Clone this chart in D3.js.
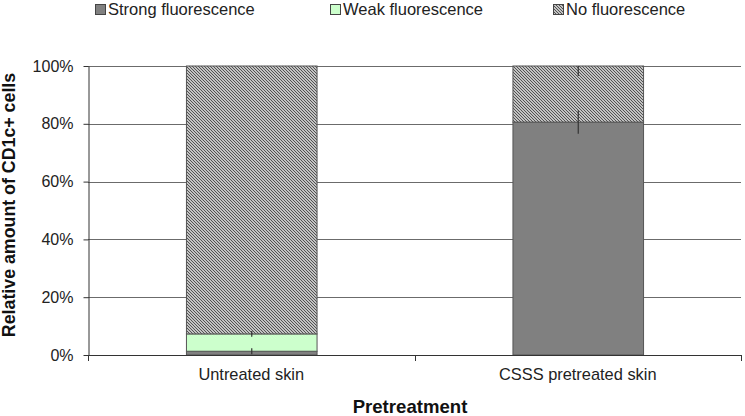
<!DOCTYPE html>
<html><head><meta charset="utf-8">
<script src="https://cdn.jsdelivr.net/npm/d3@7"></script>
<style>body{margin:0;background:#fff}svg{display:block;font-family:"Liberation Sans",Arial,sans-serif}</style>
</head><body><svg id="c" width="745" height="416"></svg>
<script>
const categories = ["Untreated skin", "CSSS pretreated skin"];
const seriesNames = ["Strong fluorescence", "Weak fluorescence", "No fluorescence"];
const strong = [1.3, 80.6];
const weak = [6.0, 0];
const none = [92.7, 19.4];
const strongErr = [1.0, 4.0];
const weakErr = [1.0, 0];
const noneErr = [0, 3.5];
const yTicks = [0, 20, 40, 60, 80, 100];

const svg = d3.select("#c");
const x = d3.scaleBand().domain(categories).range([88, 741]).paddingInner(0.6).paddingOuter(0.3);
const y = d3.scaleLinear().domain([0, 100]).range([355, 66]);

const defs = svg.append("defs");
const pat = defs.append("pattern").attr("id", "hatch").attr("patternUnits", "userSpaceOnUse")
  .attr("width", 3).attr("height", 3);
pat.append("rect").attr("width", 3).attr("height", 3).attr("fill", "#f4f4f4");
pat.append("path").attr("d", "M-1,-1 L4,4 M-1,2 L1,4 M2,-1 L4,1").attr("stroke", "#4a4a4a").attr("stroke-width", 1.1);

// grid
svg.append("g").selectAll("line").data(yTicks).join("line")
  .attr("x1", 88).attr("x2", 741).attr("y1", d => Math.round(y(d)) + 0.5).attr("y2", d => Math.round(y(d)) + 0.5)
  .attr("stroke", "#6b6b6b").attr("stroke-width", 1);

// y axis
const ya = svg.append("g").attr("transform", "translate(88.5,0)")
  .call(d3.axisLeft(y).tickValues(yTicks).tickFormat(d => d + "%").tickSize(5).tickSizeOuter(0));
ya.select(".domain").attr("stroke", "#333");
ya.selectAll(".tick line").attr("stroke", "#333");
ya.selectAll(".tick text").attr("font-size", 16).attr("fill", "#222").attr("font-family", "Liberation Sans, Arial, sans-serif").attr("x", -15);

// bars
const colors = ["#808080", "#ccffcc", "url(#hatch)"];
const vals = [strong, weak, none];
const errs = [strongErr, weakErr, noneErr];
const stacked = categories.map((c, i) => {
  let base = 0;
  return vals.map((v, s) => { const seg = {c, s, y0: base, y1: base + v[i], err: errs[s][i]}; base += v[i]; return seg; });
}).flat();

svg.append("g").selectAll("rect").data(stacked.filter(d => d.y1 > d.y0)).join("rect")
  .attr("x", d => x(d.c) + 0.5).attr("width", x.bandwidth())
  .attr("y", d => y(d.y1)).attr("height", d => y(d.y0) - y(d.y1))
  .attr("fill", d => colors[d.s]).attr("stroke", "#555").attr("stroke-width", 1);

// error bars
svg.append("g").selectAll("line").data(stacked.filter(d => d.err > 0)).join("line")
  .attr("x1", d => x(d.c) + x.bandwidth() / 2 + 0.5).attr("x2", d => x(d.c) + x.bandwidth() / 2 + 0.5)
  .attr("y1", d => y(Math.min(100, d.y1 + d.err))).attr("y2", d => y(d.y1 - d.err))
  .attr("stroke", "#333").attr("stroke-width", 1.2);

// x axis
svg.append("line").attr("x1", 88).attr("x2", 741).attr("y1", 355.5).attr("y2", 355.5).attr("stroke", "#333");
const xTickPos = [88, (x(categories[0]) + x.bandwidth() + x(categories[1])) / 2, 741];
svg.append("g").selectAll("line").data(xTickPos).join("line")
  .attr("x1", d => Math.round(d) + 0.5).attr("x2", d => Math.round(d) + 0.5).attr("y1", 355).attr("y2", 361).attr("stroke", "#333");
svg.append("g").selectAll("text").data(categories).join("text")
  .attr("x", d => x(d) + x.bandwidth() / 2).attr("y", 380).attr("text-anchor", "middle")
  .attr("font-size", 16.4).attr("fill", "#222").text(d => d);

// axis titles
svg.append("text").attr("x", 410).attr("y", 413).attr("text-anchor", "middle").attr("font-size", 18.6).attr("font-weight", "bold").attr("fill", "#111").text("Pretreatment");
svg.append("text").attr("transform", "translate(15,205) rotate(-90)").attr("text-anchor", "middle").attr("font-size", 17.8).attr("font-weight", "bold").attr("fill", "#111").text("Relative amount of CD1c+ cells");

// legend
const legX = [108, 343, 566];
const lg = svg.append("g").selectAll("g").data(seriesNames).join("g").attr("transform", (d, i) => `translate(${legX[i]},0)`);
lg.append("rect").attr("x", -12.5).attr("y", 4.5).attr("width", 10).attr("height", 10).attr("fill", (d, i) => colors[i]).attr("stroke", "#444");
lg.append("text").attr("x", 0).attr("y", 15).attr("font-size", 16.5).attr("fill", "#222").text(d => d);
</script></body></html>
